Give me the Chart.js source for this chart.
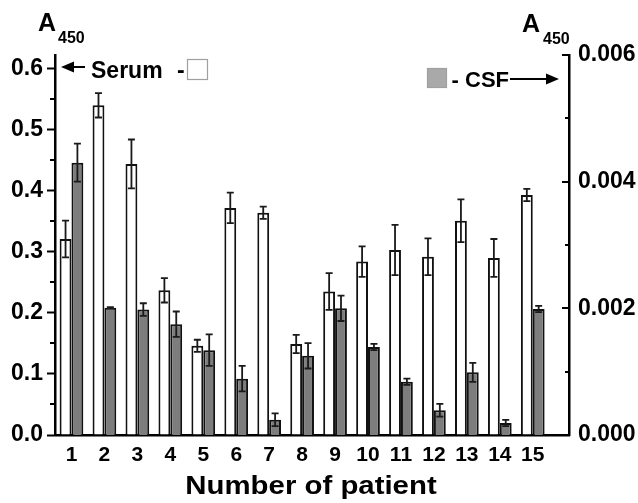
<!DOCTYPE html>
<html>
<head>
<meta charset="utf-8">
<script src="https://cdn.jsdelivr.net/npm/chart.js@4.4.0/dist/chart.umd.min.js"></script>
<style>
html, body { margin: 0; padding: 0; background: #fff; }
canvas { display: block; }
</style>
</head>
<body>
<canvas id="grafico" width="638" height="503"></canvas>
<script>
// valores
var patients = [1, 2, 3, 4, 5, 6, 7, 8, 9, 10, 11, 12, 13, 14, 15];
var serum    = [0.321, 0.540, 0.444, 0.237, 0.146, 0.372, 0.364, 0.149, 0.235, 0.284, 0.303, 0.292, 0.351, 0.290, 0.393];
var serumErr = [0.030, 0.020, 0.040, 0.020, 0.010, 0.025, 0.010, 0.015, 0.030, 0.025, 0.041, 0.030, 0.035, 0.031, 0.010];
var csf      = [0.00430, 0.00201, 0.00198, 0.00175, 0.00134, 0.00089, 0.00024, 0.00125, 0.00200, 0.00139, 0.00084, 0.00039, 0.00099, 0.00019, 0.00199];
var csfErr   = [0.00030, 0.00001, 0.00010, 0.00020, 0.00025, 0.00020, 0.00010, 0.00020, 0.00020, 0.00005, 0.00005, 0.00010, 0.00015, 0.00005, 0.00005];
var leftTicks  = [0, 0.1, 0.2, 0.3, 0.4, 0.5, 0.6];
var leftMinor  = [0.05, 0.15, 0.25, 0.35, 0.45, 0.55];
var rightTicks = [0, 0.002, 0.004, 0.006];
var rightMinor = [0.001, 0.003, 0.005];

var FONT = '"Liberation Sans", Arial, Helvetica, sans-serif';

function boldFont(size) {
    return 'bold ' + size + 'px ' + FONT;
}

// barras de erro, ticks menores e textos extras
var extras = {
    id: 'extras',
    afterDatasetsDraw: function(chart) {
        var ctx = chart.ctx;
        var errs = [serumErr, csfErr];
        var vals = [serum, csf];
        ctx.save();
        ctx.strokeStyle = '#1a1a1a';
        ctx.lineWidth = 1.8;
        for (var d = 0; d < 2; d++) {
            var meta = chart.getDatasetMeta(d);
            var ys = chart.scales[meta.yAxisID];
            meta.data.forEach(function(bar, i) {
                var x = bar.x;
                var y1 = ys.getPixelForValue(vals[d][i] + errs[d][i]);
                var y2 = ys.getPixelForValue(vals[d][i] - errs[d][i]);
                ctx.beginPath();
                ctx.moveTo(x, y1); ctx.lineTo(x, y2);
                ctx.moveTo(x - 3.5, y1); ctx.lineTo(x + 3.5, y1);
                ctx.moveTo(x - 3.5, y2); ctx.lineTo(x + 3.5, y2);
                ctx.stroke();
            });
        }
        ctx.restore();
    },
    afterDraw: function(chart) {
        var ctx = chart.ctx;
        var area = chart.chartArea;
        var yl = chart.scales.y;
        var yr = chart.scales.y1;
        ctx.save();
        ctx.strokeStyle = '#000';
        ctx.lineWidth = 2;

        // ticks menores (esquerda para fora, direita para dentro)
        leftMinor.forEach(function(v) {
            var y = Math.round(yl.getPixelForValue(v));
            ctx.beginPath(); ctx.moveTo(area.left - 5, y); ctx.lineTo(area.left, y); ctx.stroke();
        });
        rightTicks.forEach(function(v) {
            var y = Math.round(yr.getPixelForValue(v));
            ctx.beginPath(); ctx.moveTo(area.right - 7, y); ctx.lineTo(area.right, y); ctx.stroke();
        });
        rightMinor.forEach(function(v) {
            var y = Math.round(yr.getPixelForValue(v));
            ctx.beginPath(); ctx.moveTo(area.right - 4, y); ctx.lineTo(area.right, y); ctx.stroke();
        });

        ctx.fillStyle = '#000';
        ctx.textBaseline = 'alphabetic';
        ctx.textAlign = 'left';

        // A450 nos dois eixos
        ctx.font = boldFont(25);
        ctx.fillText('A', 38, 31);
        ctx.fillText('A', 522, 32);
        ctx.font = boldFont(16);
        ctx.fillText('450', 58, 43);
        ctx.fillText('450', 543, 44);

        // título do eixo x
        ctx.save();
        ctx.font = boldFont(26);
        ctx.translate(311, 494);
        ctx.scale(1.13, 1);
        ctx.textAlign = 'center';
        ctx.fillText('Number of patient', 0, 0);
        ctx.restore();

        // legenda soro
        ctx.font = boldFont(23);
        ctx.fillText('Serum', 91, 78);
        ctx.fillText('-', 177, 78);
        ctx.fillStyle = '#fff';
        ctx.fillRect(187, 59, 20, 20);
        ctx.strokeStyle = '#a0a0a0';
        ctx.lineWidth = 1.2;
        ctx.strokeRect(187.5, 59.5, 20, 20);

        // legenda LCR
        ctx.fillStyle = '#a9a9a9';
        ctx.fillRect(427, 68, 19, 19);
        ctx.strokeRect(427.5, 68.5, 19, 19);
        ctx.fillStyle = '#000';
        ctx.textAlign = 'right';
        ctx.font = boldFont(22);
        ctx.fillText('- CSF', 509, 87);

        // setas
        ctx.strokeStyle = '#000';
        ctx.lineWidth = 2;
        ctx.beginPath(); ctx.moveTo(68, 67); ctx.lineTo(85, 67); ctx.stroke();
        ctx.beginPath(); ctx.moveTo(61, 67); ctx.lineTo(74, 61.5); ctx.lineTo(74, 72.5); ctx.closePath(); ctx.fill();
        ctx.beginPath(); ctx.moveTo(510, 79); ctx.lineTo(550, 79); ctx.stroke();
        ctx.beginPath(); ctx.moveTo(559, 79); ctx.lineTo(546, 73.5); ctx.lineTo(546, 84.5); ctx.closePath(); ctx.fill();

        ctx.restore();
    }
};

var grafico = new Chart(document.getElementById('grafico').getContext('2d'), {
    type: 'bar',
    data: {
        datasets: [{
            label: 'Serum',
            data: patients.map(function(p, i) { return {x: p, y: serum[i]}; }),
            backgroundColor: '#ffffff',
            borderColor: '#111111',
            borderWidth: 2,
            yAxisID: 'y'
        }, {
            label: 'CSF',
            data: patients.map(function(p, i) { return {x: p, y: csf[i]}; }),
            backgroundColor: '#7d7d7d',
            borderColor: '#111111',
            borderWidth: 2,
            yAxisID: 'y1'
        }]
    },
    options: {
        responsive: false,
        animation: false,
        devicePixelRatio: 1,
        categoryPercentage: 0.72,
        barPercentage: 1.0,
        layout: { padding: { top: 55, left: 0, right: 0, bottom: 0 } },
        scales: {
            x: {
                type: 'linear',
                offset: false,
                min: 0.5,
                max: 16.1,
                afterBuildTicks: function(scale) {
                    scale.ticks = patients.map(function(p) { return {value: p}; });
                },
                afterFit: function(scale) { scale.height = 68; },
                grid: { display: false },
                border: { display: true, color: '#000', width: 2.5 },
                ticks: {
                    autoSkip: false,
                    maxRotation: 0,
                    padding: 0,
                    color: '#000',
                    font: { family: FONT, size: 21, weight: 'bold' },
                    callback: function(v) { return String(v); }
                }
            },
            y: {
                position: 'left',
                min: 0,
                max: 0.6224,
                afterBuildTicks: function(scale) {
                    scale.ticks = leftTicks.map(function(v) { return {value: v}; });
                },
                afterFit: function(scale) { scale.width = 55; },
                grid: { drawOnChartArea: false, drawTicks: true, tickLength: 8, tickWidth: 2, tickColor: '#000' },
                border: { display: true, color: '#000', width: 2.5 },
                ticks: {
                    padding: 4,
                    color: '#000',
                    font: { family: FONT, size: 23, weight: 'bold' },
                    callback: function(v) { return v.toFixed(1); }
                }
            },
            y1: {
                position: 'right',
                min: 0,
                max: 0.006,
                afterBuildTicks: function(scale) {
                    scale.ticks = rightTicks.map(function(v) { return {value: v}; });
                },
                afterFit: function(scale) { scale.width = 69; },
                grid: { display: false },
                border: { display: true, color: '#000', width: 2.5 },
                ticks: {
                    padding: 1,
                    color: '#000',
                    font: { family: FONT, size: 23, weight: 'bold' },
                    callback: function(v) { return v.toFixed(3); }
                }
            }
        },
        plugins: {
            legend: { display: false },
            tooltip: { enabled: false }
        }
    },
    plugins: [extras]
});
</script>
</body>
</html>
